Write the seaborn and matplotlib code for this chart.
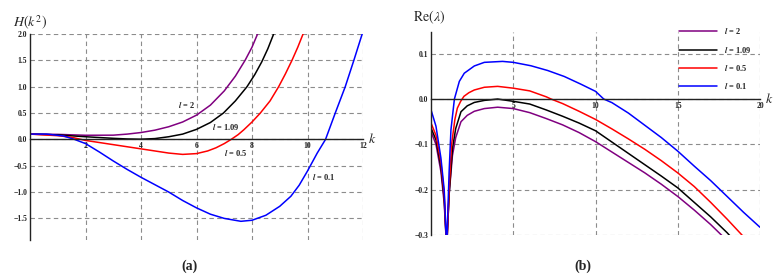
import numpy as np
import pandas as pd
import matplotlib
matplotlib.use("Agg")
import matplotlib.pyplot as plt
from matplotlib.ticker import MultipleLocator
import seaborn as sns

# ---- data ----
labels = ["l = 2", "l = 1.09", "l = 0.5", "l = 0.1"]
colors = ["#800080", "#000000", "#ff0000", "#0000ff"]

# panel (a): H(k^2)
k_a_l2 = [0, 1, 2, 3, 3.5, 4, 4.5, 5, 5.5, 6, 6.5, 7, 7.4, 7.75, 8.0, 8.2, 8.4]
H_a_l2 = [0.1, 0.095, 0.078, 0.08, 0.1, 0.13, 0.175, 0.24, 0.33, 0.46, 0.65, 0.92, 1.2, 1.5, 1.75, 2.0, 2.28]
k_a_l109 = [0, 1, 2, 3, 3.5, 4, 4.5, 5, 5.5, 6, 6.5, 6.97, 7.4, 7.82, 8.1, 8.35, 8.57, 8.78, 8.95]
H_a_l109 = [0.1, 0.085, 0.05, 0.02, 0.008, 0.003, 0.015, 0.05, 0.1, 0.19, 0.32, 0.5, 0.73, 1.0, 1.23, 1.47, 1.72,
            2.0, 2.25]
k_a_l05 = [0, 1, 1.5, 2, 2.5, 3, 3.5, 4, 4.5, 5, 5.5, 6, 6.4, 6.7, 7.0, 7.25, 7.5, 7.7, 8.0, 8.3, 8.65, 8.96, 9.2,
           9.44, 9.65, 9.84, 10.0]
H_a_l05 = [0.1, 0.07, 0.04, -0.02, -0.06, -0.1, -0.14, -0.18, -0.22, -0.26, -0.285, -0.27, -0.22, -0.16, -0.08,
           0.0, 0.09, 0.18, 0.33, 0.5, 0.73, 1.0, 1.24, 1.5, 1.75, 2.0, 2.22]
k_a_l01 = [0, 0.6, 1.2, 1.6, 2, 2.5, 3, 3.5, 4, 4.5, 5, 5.5, 6, 6.5, 7, 7.6, 8, 8.5, 9, 9.4, 9.7, 10, 10.35, 10.65,
           11, 11.36, 11.67, 11.97, 12.1]
H_a_l01 = [0.1, 0.1, 0.065, 0.0, -0.08, -0.24, -0.41, -0.57, -0.72, -0.86, -1.0, -1.16, -1.3, -1.42, -1.5, -1.555,
           -1.535, -1.44, -1.27, -1.08, -0.87, -0.6, -0.26, 0.0, 0.5, 1.0, 1.5, 2.0, 2.2]

# panel (b): Re(lambda)
k_b_l2 = [0, 0.3, 0.6, 0.8, 0.95, 1.1, 1.3, 1.5, 1.82, 2.2, 2.63, 3.24, 4.05, 5, 6, 7, 8, 9, 10, 11, 12, 13, 14,
          15, 16, 17, 17.65, 18]
R_b_l2 = [-0.072, -0.1, -0.16, -0.23, -0.33, -0.21, -0.125, -0.085, -0.05, -0.036, -0.027, -0.021, -0.018, -0.021,
          -0.03, -0.043, -0.057, -0.074, -0.094, -0.117, -0.14, -0.163, -0.188, -0.215, -0.245, -0.277, -0.3,
          -0.315]
k_b_l109 = [0, 0.3, 0.6, 0.8, 0.95, 1.1, 1.3, 1.5, 1.82, 2.2, 2.63, 3.24, 4.05, 5, 6, 7, 8, 9, 10, 11, 12, 13, 14,
            15, 16, 17, 18, 18.5]
R_b_l109 = [-0.064, -0.09, -0.15, -0.22, -0.33, -0.21, -0.11, -0.065, -0.028, -0.015, -0.0075, -0.003, 0.0,
            -0.005, -0.011, -0.024, -0.038, -0.053, -0.07, -0.095, -0.12, -0.145, -0.17, -0.196, -0.228, -0.26,
            -0.295, -0.315]
k_b_l05 = [0, 0.3, 0.6, 0.8, 0.95, 1.1, 1.25, 1.45, 1.6, 1.8, 2.0, 2.3, 2.63, 3.24, 4.05, 5, 6, 7, 7.3, 8, 9, 10,
           11, 12, 13, 14, 15, 16, 17, 18, 18.9, 19.5]
R_b_l05 = [-0.053, -0.08, -0.14, -0.21, -0.33, -0.2, -0.1, -0.045, -0.02, -0.005, 0.006, 0.014, 0.02, 0.026,
           0.028, 0.024, 0.018, 0.005, 0.0, -0.01, -0.027, -0.045, -0.066, -0.088, -0.111, -0.136, -0.163, -0.193,
           -0.228, -0.265, -0.3, -0.325]
k_b_l01 = [0, 0.3, 0.6, 0.8, 0.95, 1.1, 1.21, 1.42, 1.72, 2.02, 2.63, 3.24, 4.35, 5, 6.07, 7.09, 8.1, 9.1, 10,
           10.5, 11, 12, 13, 14, 15, 16, 17, 18, 19, 20]
R_b_l01 = [-0.024, -0.06, -0.13, -0.2, -0.33, -0.16, -0.068, 0.0, 0.039, 0.057, 0.073, 0.081, 0.0831, 0.081,
           0.0735, 0.063, 0.0498, 0.033, 0.017, 0.0, -0.008, -0.031, -0.058, -0.085, -0.115, -0.148, -0.18, -0.215,
           -0.25, -0.283]

df_a = pd.concat([pd.DataFrame({"k": k, "H": h, "l": lab}) for k, h, lab in
                  zip([k_a_l2, k_a_l109, k_a_l05, k_a_l01], [H_a_l2, H_a_l109, H_a_l05, H_a_l01], labels)])
df_b = pd.concat([pd.DataFrame({"k": k, "R": r, "l": lab}) for k, r, lab in
                  zip([k_b_l2, k_b_l109, k_b_l05, k_b_l01], [R_b_l2, R_b_l109, R_b_l05, R_b_l01], labels)])
pal = dict(zip(labels, colors))

sns.set_style("white")
plt.rcParams["font.family"] = ["Liberation Serif", "DejaVu Serif"]
plt.rcParams["mathtext.fontset"] = "stix"

fig = plt.figure(figsize=(7.82, 2.76), dpi=100)
ax1 = fig.add_axes([0.0384, 0.1304, 0.4258, 0.7464])
ax2 = fig.add_axes([0.5512, 0.1486, 0.4207, 0.7355])

sns.lineplot(data=df_a, x="k", y="H", hue="l", hue_order=labels, palette=pal, estimator=None, sort=False,
             linewidth=1.1, legend=False, ax=ax1)
sns.lineplot(data=df_b, x="k", y="R", hue="l", hue_order=labels, palette=pal, estimator=None, sort=False,
             linewidth=1.1, legend=False, ax=ax2)


def style_axes(ax, xmax, ylo, yhi, xt, yt, xminor, yminor):
    ax.set_xlim(0, xmax)
    ax.set_ylim(ylo, yhi)
    ax.set_xlabel("")
    ax.set_ylabel("")
    for s in ["top", "right"]:
        ax.spines[s].set_visible(False)
    ax.spines["left"].set_position(("data", 0))
    ax.spines["bottom"].set_position(("data", 0))
    for s in ["left", "bottom"]:
        ax.spines[s].set_color("#222222")
        ax.spines[s].set_linewidth(1.0)
    ax.set_xticks(xt)
    ax.set_xticklabels([str(v) for v in xt], fontweight="bold")
    ax.set_yticks(yt)
    ax.set_yticklabels(["{:.1f}".format(v).replace("-", "\u2212") for v in yt], fontweight="bold")
    ax.xaxis.set_minor_locator(MultipleLocator(xminor))
    ax.yaxis.set_minor_locator(MultipleLocator(yminor))
    ax.tick_params(which="both", direction="in", colors="#222222", labelsize=5.5, pad=2)
    ax.tick_params(which="major", length=3, width=0.6)
    ax.tick_params(which="minor", length=1.5, width=0.5)
    ax.grid(True, which="major", linestyle=(0, (4, 3)), color="#8c8c8c", linewidth=0.8)
    ax.set_axisbelow(True)


style_axes(ax1, 12, -1.91, 2.0, [2, 4, 6, 8, 10, 12], [-1.5, -1.0, -0.5, 0.0, 0.5, 1.0, 1.5, 2.0], 0.5, 0.1)
style_axes(ax2, 20, -0.3, 0.148, [5, 10, 15, 20], [-0.3, -0.2, -0.1, 0.0, 0.1], 1, 0.02)

# curve labels in panel (a)
lab_font = dict(fontsize=6, fontweight="bold", ha="center", va="center")
ax1.text(5.65, 0.65, r"$\mathbfit{l}$ = 2", **lab_font)
ax1.text(7.05, 0.24, r"$\mathbfit{l}$ = 1.09", **lab_font)
ax1.text(7.4, -0.25, r"$\mathbfit{l}$ = 0.5", **lab_font)
ax1.text(10.6, -0.72, r"$\mathbfit{l}$ = 0.1", **lab_font)

# axis titles
ttl = dict(fontsize=10, ha="left", va="center")
ax1.text(-0.05, 1.055, r"$H(k^2)$", transform=ax1.transAxes, **ttl)
ax1.text(1.015, 0.49, r"$k$", transform=ax1.transAxes, **ttl)
ax2.text(-0.055, 1.07, r"$\mathrm{Re}(\lambda)$", transform=ax2.transAxes, **ttl)
ax2.text(1.015, 0.67, r"$k$", transform=ax2.transAxes, **ttl)

# legend in panel (b)
ax2.legend(handles=ax2.lines[:4], labels=[r"$\mathbfit{l}$ = 2", r"$\mathbfit{l}$ = 1.09",
                                          r"$\mathbfit{l}$ = 0.5", r"$\mathbfit{l}$ = 0.1"],
           loc="upper left", bbox_to_anchor=(0.868, 0.905), bbox_transform=fig.transFigure,
           frameon=False, handlelength=4.6, handletextpad=0.8, labelspacing=1.0,
           borderpad=0, borderaxespad=0, prop={"size": 6, "weight": "bold"})

fig.text(190 / 782, 1 - 266 / 276, "(a)", fontsize=10, fontweight="bold", ha="center", va="center")
fig.text(583 / 782, 1 - 266 / 276, "(b)", fontsize=10, fontweight="bold", ha="center", va="center")

fig.savefig("out.png", dpi=100)
